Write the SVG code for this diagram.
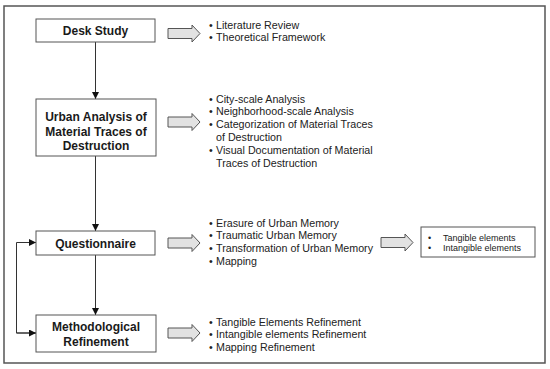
<svg xmlns="http://www.w3.org/2000/svg" width="550" height="369" viewBox="0 0 550 369">
<defs>
<style>
.frame{fill:#fff;stroke:#555;stroke-width:1.5}
.box{fill:#fff;stroke:#555;stroke-width:1}
.lbl{font-family:"Liberation Sans",Arial,sans-serif;font-size:12px;font-weight:bold;fill:#1a1a1a;text-anchor:middle}
.blt{font-family:"Liberation Sans",Arial,sans-serif;font-size:10.7px;fill:#222}
.sm{font-family:"Liberation Sans",Arial,sans-serif;font-size:9px;fill:#222}
.conn{fill:none;stroke:#333;stroke-width:1}
.barrow{fill:#e2e2e2;stroke:#555;stroke-width:1}
</style>
<marker id="ah" viewBox="0 0 8 8" refX="8" refY="4" markerWidth="7" markerHeight="7" markerUnits="userSpaceOnUse" orient="auto">
<path d="M0,0 L8,4 L0,8 Z" fill="#111"/>
</marker>
<path id="blk" d="M0,-5 L24,-5 L24,-8.5 L32,0 L24,8.5 L24,5 L0,5 Z"/>
</defs>
<rect x="0" y="0" width="550" height="369" fill="#fff"/>
<rect class="frame" x="4" y="6" width="541" height="357"/>

<g id="connectors">
<line class="conn" x1="95.5" y1="42" x2="95.5" y2="99" marker-end="url(#ah)"/>
<line class="conn" x1="95.5" y1="156" x2="95.5" y2="231" marker-end="url(#ah)"/>
<line class="conn" x1="95.5" y1="255" x2="95.5" y2="315" marker-end="url(#ah)"/>
<polyline class="conn" points="36,333 16.5,333 16.5,242.5 36,242.5" marker-end="url(#ah)"/>
<line class="conn" x1="16.5" y1="333" x2="36" y2="333" marker-end="url(#ah)"/>
<use href="#blk" class="barrow" x="168" y="33.5"/>
<use href="#blk" class="barrow" x="168" y="122"/>
<use href="#blk" class="barrow" x="168" y="243"/>
<use href="#blk" class="barrow" x="168" y="333"/>
<use href="#blk" class="barrow" x="381" y="242.5"/>
</g>

<g id="desk-study">
<rect class="box" x="36" y="19" width="119" height="23"/>
<text class="lbl" x="95.5" y="35">Desk Study</text>
</g>
<g id="desk-study-items">
<text class="blt" x="209" y="28.5">•</text><text class="blt" x="216" y="28.5">Literature Review</text>
<text class="blt" x="209" y="41.3">•</text><text class="blt" x="216" y="41.3">Theoretical Framework</text>
</g>

<g id="urban-analysis">
<rect class="box" x="36" y="99" width="120" height="57"/>
<text class="lbl" x="96" y="121">Urban Analysis of</text>
<text class="lbl" x="96" y="135.5">Material Traces of</text>
<text class="lbl" x="96" y="150">Destruction</text>
</g>
<g id="urban-analysis-items">
<text class="blt" x="209" y="102.5">•</text><text class="blt" x="216" y="102.5">City-scale Analysis</text>
<text class="blt" x="209" y="115.3">•</text><text class="blt" x="216" y="115.3">Neighborhood-scale Analysis</text>
<text class="blt" x="209" y="128.1">•</text><text class="blt" x="216" y="128.1">Categorization of Material Traces</text>
<text class="blt" x="216" y="140.9">of Destruction</text>
<text class="blt" x="209" y="153.7">•</text><text class="blt" x="216" y="153.7">Visual Documentation of Material</text>
<text class="blt" x="216" y="166.5">Traces of Destruction</text>
</g>

<g id="questionnaire">
<rect class="box" x="36" y="231" width="119" height="24"/>
<text class="lbl" x="95.5" y="247.5">Questionnaire</text>
</g>
<g id="questionnaire-items">
<text class="blt" x="209" y="226.5">•</text><text class="blt" x="216" y="226.5">Erasure of Urban Memory</text>
<text class="blt" x="209" y="239.3">•</text><text class="blt" x="216" y="239.3">Traumatic Urban Memory</text>
<text class="blt" x="209" y="252.1">•</text><text class="blt" x="216" y="252.1">Transformation of Urban Memory</text>
<text class="blt" x="209" y="264.9">•</text><text class="blt" x="216" y="264.9">Mapping</text>
</g>

<g id="elements">
<rect class="box" x="421" y="227" width="114" height="30"/>
<text class="sm" x="428" y="240.5">•</text><text class="sm" x="443" y="240.5">Tangible elements</text>
<text class="sm" x="428" y="250.7">•</text><text class="sm" x="443" y="250.7">Intangible elements</text>
</g>

<g id="methodological-refinement">
<rect class="box" x="36" y="315" width="120" height="37"/>
<text class="lbl" x="96" y="331">Methodological</text>
<text class="lbl" x="96" y="346">Refinement</text>
</g>
<g id="refinement-items">
<text class="blt" x="209" y="325.5">•</text><text class="blt" x="216" y="325.5">Tangible Elements Refinement</text>
<text class="blt" x="209" y="338.3">•</text><text class="blt" x="216" y="338.3">Intangible elements Refinement</text>
<text class="blt" x="209" y="351.1">•</text><text class="blt" x="216" y="351.1">Mapping Refinement</text>
</g>
</svg>
